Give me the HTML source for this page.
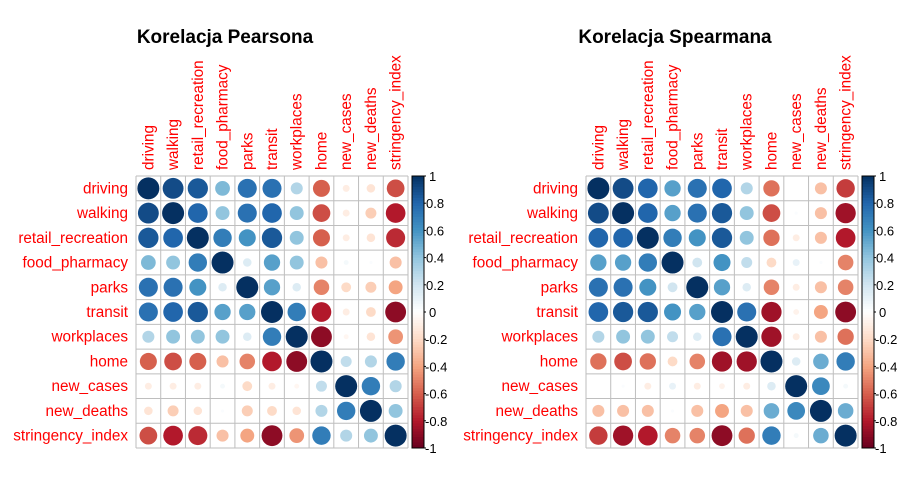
<!DOCTYPE html>
<html><head><meta charset="utf-8"><style>
body{margin:0;background:#fff;}
svg{display:block;font-family:"Liberation Sans",Arial,sans-serif;}
</style></head><body>
<svg id="s" width="900" height="500"></svg>
<script>
const labels=["driving","walking","retail_recreation","food_pharmacy","parks","transit","workplaces","home","new_cases","new_deaths","stringency_index"];
const pearson=[
[1,.9,.85,.45,.75,.75,.3,-.6,-.1,-.15,-.65],
[.9,1,.8,.4,.75,.8,.4,-.65,-.1,-.25,-.8],
[.85,.8,1,.7,.6,.85,.4,-.6,-.1,-.15,-.75],
[.45,.4,.7,1,.15,.55,.4,-.3,.05,.02,-.3],
[.75,.75,.6,.15,1,.55,.15,-.5,-.2,-.25,-.4],
[.75,.8,.85,.55,.55,1,.7,-.8,-.1,-.2,-.9],
[.3,.4,.4,.4,.15,.7,1,-.9,-.05,-.15,-.45],
[-.6,-.65,-.6,-.3,-.5,-.8,-.9,1,.25,.3,.7],
[-.1,-.1,-.1,.05,-.2,-.1,-.05,.25,1,.7,.3],
[-.15,-.25,-.15,.02,-.25,-.2,-.15,.3,.7,1,.4],
[-.65,-.8,-.75,-.3,-.4,-.9,-.45,.7,.3,.4,1]];
const spearman=[
[1,.9,.8,.55,.75,.8,.3,-.55,0,-.3,-.7],
[.9,1,.8,.55,.75,.85,.4,-.65,.02,-.3,-.85],
[.8,.8,1,.7,.6,.85,.4,-.55,-.1,-.3,-.8],
[.55,.55,.7,1,.2,.6,.25,-.2,.1,.02,-.5],
[.75,.75,.6,.2,1,.55,.15,-.5,-.1,-.3,-.5],
[.8,.85,.85,.6,.55,1,.75,-.85,-.07,-.4,-.9],
[.3,.4,.4,.25,.15,.75,1,-.85,-.1,-.3,-.55],
[-.55,-.65,-.55,-.2,-.5,-.85,-.85,1,.15,.5,.7],
[0,.02,-.1,.1,-.1,-.07,-.1,.15,1,.65,.05],
[-.3,-.3,-.3,.02,-.3,-.4,-.3,.5,.65,1,.5],
[-.7,-.85,-.8,-.5,-.5,-.9,-.55,.7,.05,.5,1]];
const ticks=[1,0.8,0.6,0.4,0.2,0,-0.2,-0.4,-0.6,-0.8,-1];
const pal=["#67001F","#B2182B","#D6604D","#F4A582","#FDDBC7","#FFFFFF","#D1E5F0","#92C5DE","#4393C3","#2166AC","#053061"];
function hex(h){return [1,3,5].map(i=>parseInt(h.substr(i,2),16));}
function col(v){const t=(v+1)/2*10;let i=Math.min(9,Math.floor(t));const f=t-i;const a=hex(pal[i]),b=hex(pal[i+1]);
return "rgb("+a.map((x,k)=>Math.round(x+(b[k]-x)*f)).join(",")+")";}
const NS="http://www.w3.org/2000/svg",svg=document.getElementById("s");
function el(tag,at,parent){const e=document.createElementNS(NS,tag);for(const k in at)e.setAttribute(k,at[k]);(parent||svg).appendChild(e);return e;}
function panel(x0,title,M,name){
const g=el("g",{});


const y0=176,W=272,n=labels.length,c=W/n;
const t=el("text",{x:x0+W/2-47,y:43,"text-anchor":"middle","font-size":"19","font-weight":"bold",fill:"#000"},g);
t.textContent=title;


for(let i=0;i<n;i++){
const r=el("text",{x:x0-8,y:y0+c*i+c/2+5,"text-anchor":"end","font-size":"15.3",fill:"#FF0000"},g);r.textContent=labels[i];


const cx=x0+c*i+c/2+5;
const cl=el("text",{x:0,y:0,transform:"translate("+cx+",170) rotate(-90)","font-size":"15.3",fill:"#FF0000"},g);cl.textContent=labels[i];


}
for(let i=0;i<n;i++)for(let j=0;j<n;j++){
const v=M[i][j];
const ci=el("circle",{cx:x0+c*j+c/2,cy:y0+c*i+c/2,r:11*Math.sqrt(Math.abs(v)),fill:col(v)},g);


}
for(let k=0;k<=n;k++){
el("line",{x1:x0+c*k,y1:y0,x2:x0+c*k,y2:y0+W,stroke:"#BEBEBE","stroke-width":1},g);
el("line",{x1:x0,y1:y0+c*k,x2:x0+W,y2:y0+c*k,stroke:"#BEBEBE","stroke-width":1},g);
}
const bx=x0+W+4,bw=12;
for(let p=0;p<100;p++){const v=1-2*(p+0.5)/100;
el("rect",{x:bx,y:y0+W*p/100,width:bw,height:W/100+0.5,fill:col(v)},g);}
el("rect",{x:bx,y:y0,width:bw,height:W,fill:"none",stroke:"#000","stroke-width":1},g);
ticks.forEach(v=>{const y=y0+(1-v)/2*W;
el("line",{x1:bx+bw,y1:y,x2:bx+bw+2,y2:y,stroke:"#000"},g);
const tl=el("text",{x:bx+bw+(v<0?1:(v===0||v===1?5:2)),y:y+5,"font-size":"13",fill:"#000"},g);tl.textContent=String(v);


});
}
panel(136,"Korelacja Pearsona",pearson,"pearson-panel");
panel(586,"Korelacja Spearmana",spearman,"spearman-panel");
</script>
</body></html>
